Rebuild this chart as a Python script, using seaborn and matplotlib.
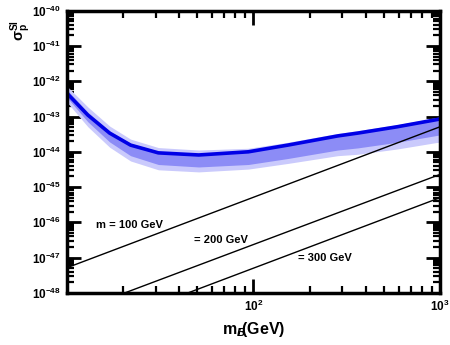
import matplotlib
matplotlib.use('Agg')
import matplotlib.pyplot as plt
import seaborn as sns
import numpy as np
import pandas as pd

# blue curve (central) and its two bands, values as exponents of 10
mass = [10, 13, 17, 22, 31, 51, 94, 153, 283, 362, 590, 1000]
central = [-42.33, -42.96, -43.47, -43.81, -44.03, -44.09, -44.00, -43.81, -43.55, -43.47, -43.29, -43.07]
inner_lo = [-42.45, -43.15, -43.72, -44.11, -44.36, -44.43, -44.36, -44.19, -43.95, -43.89, -43.73, -43.52]
inner_hi = [-42.23, -42.88, -43.41, -43.76, -43.99, -44.06, -43.98, -43.79, -43.53, -43.45, -43.27, -43.05]
outer_lo = [-42.58, -43.29, -43.87, -44.26, -44.51, -44.57, -44.49, -44.33, -44.11, -44.07, -43.92, -43.72]
outer_hi = [-42.13, -42.73, -43.27, -43.64, -43.88, -43.95, -43.90, -43.73, -43.48, -43.40, -43.23, -43.01]

# straight reference lines for m = 100, 200, 300 GeV (exponents at the end points)
line_x = [10, 1000]
m100 = [-47.29, -43.29]
m200 = [-48.62, -44.64]
m300 = [-49.30, -45.30]
line_labels = ['m = 100 GeV', '= 200 GeV', '= 300 GeV']
label_pos = [(21.7, -46.07), (66.8, -46.5), (241.5, -47.0)]

sns.set_style('ticks')
plt.rcParams['font.family'] = ['Liberation Sans', 'DejaVu Sans']
plt.rcParams['text.color'] = 'black'
plt.rcParams['axes.labelcolor'] = 'black'
plt.rcParams['mathtext.fontset'] = 'custom'
plt.rcParams['mathtext.rm'] = 'Liberation Sans:bold'
plt.rcParams['mathtext.it'] = 'Liberation Sans:italic:bold'
plt.rcParams['mathtext.bf'] = 'Liberation Sans:bold'
plt.rcParams['mathtext.default'] = 'regular'

fig = plt.figure(figsize=(4.5, 3.45), dpi=100)
ax = fig.add_axes([0.148, 0.151, 0.830, 0.818])

p = lambda v: 10.0 ** np.array(v)

ax.fill_between(mass, p(outer_lo), p(outer_hi), color='#cacafc', lw=0)
ax.fill_between(mass, p(inner_lo), p(inner_hi), color='#8c8cf6', lw=0)
df = pd.DataFrame({'m': mass, 's': p(central)})
sns.lineplot(data=df, x='m', y='s', ax=ax, color='#0000e6', lw=2.6)

for ys in (m100, m200, m300):
    d = pd.DataFrame({'m': line_x, 's': p(ys)})
    sns.lineplot(data=d, x='m', y='s', ax=ax, color='black', lw=1.0)

for txt, (lx, ly) in zip(line_labels, label_pos):
    ax.text(lx, 10.0 ** ly, txt, ha='center', va='center', fontsize=8, fontweight='bold', color='black')

ax.set_xscale('log')
ax.set_yscale('log')
ax.set_xlim(10, 1000)
ax.set_ylim(1e-48, 1e-40)
ax.set_yticks([10.0 ** k for k in range(-48, -39)])
ax.set_xticks([100, 1000])

ax.tick_params(which='both', direction='in', top=True, right=True, labelsize=8.5, pad=4,
               color='black', labelcolor='black')
ax.tick_params(which='major', length=10, width=2)
ax.tick_params(which='minor', length=5, width=1.6)
for lab in ax.get_xticklabels() + ax.get_yticklabels():
    lab.set_fontweight('bold')
for s in ax.spines.values():
    s.set_linewidth(2.5)
    s.set_color('black')

ax.set_xlabel(r'm$_{\mathit{B}\!\!\!\!/}$(GeV)', fontsize=11.5, fontweight='bold', color='black')
ax.set_ylabel(r'$\sigma_p^{SI}$', fontsize=10.5, fontweight='bold', rotation=90, color='black')
ax.yaxis.set_label_coords(-0.09, 0.93)
ax.xaxis.set_label_coords(0.5, -0.095)

fig.savefig('out.png', dpi=100)
